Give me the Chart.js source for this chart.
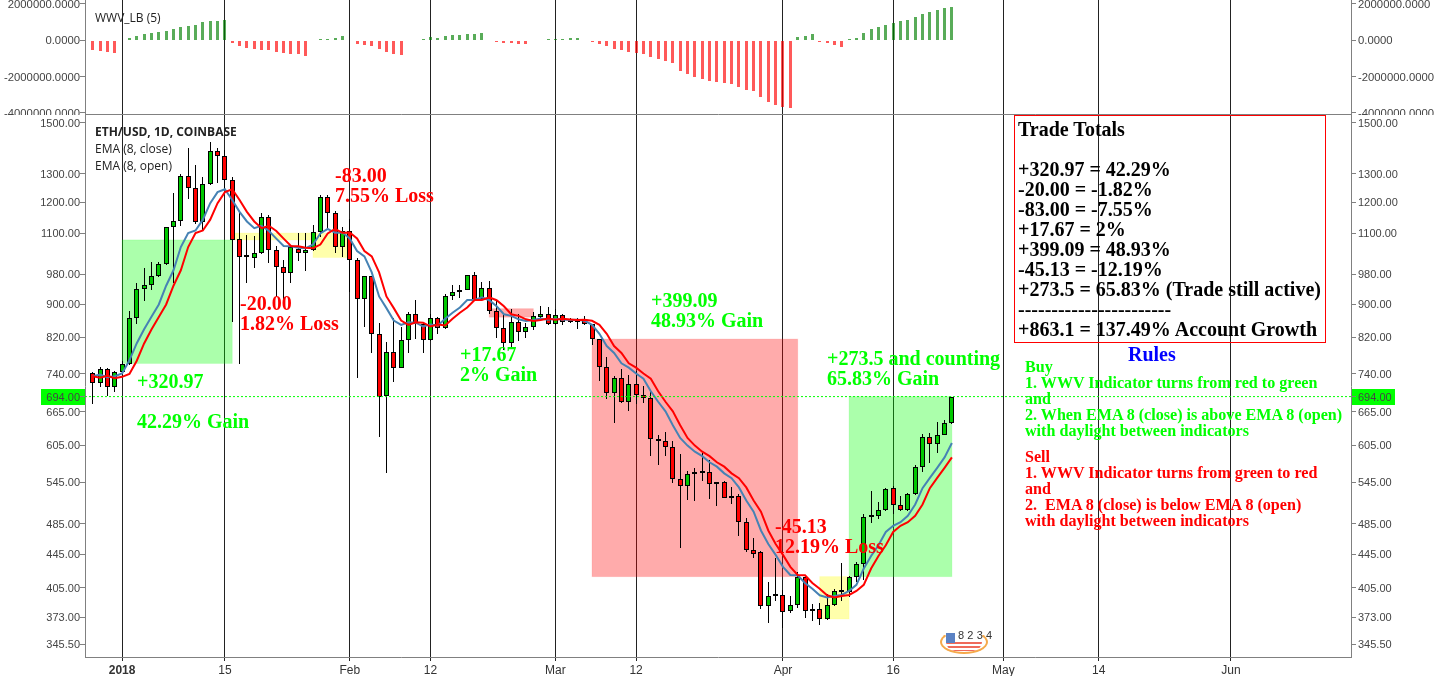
<!DOCTYPE html>
<html>
<head>
<meta charset="utf-8">
<title>ETH/USD WWV EMA trades</title>
<script src="https://cdn.jsdelivr.net/npm/chart.js@4"></script>
<style>
  html, body { margin: 0; background: #fff; overflow: hidden; }
  canvas { position: absolute; left: 0; }
  #wwv { top: 0; }
  #precio { top: 115px; }
  .nota { position: absolute; white-space: pre; font-family: "Liberation Serif", serif; font-weight: bold; }
  .leyenda { position: absolute; white-space: pre; font: 12px/16px "Open Sans", sans-serif; color: #222; }
  #totales { position: absolute; left: 1014px; top: 115px; width: 310px; height: 226px; border: 1px solid #f00; }
  .logo { position: absolute; }
</style>
</head>
<body>
<canvas id="wwv" width="1437" height="115"></canvas>
<canvas id="precio" width="1437" height="561"></canvas>
<div id="totales"></div>
<div class="logo" style="left:946px;top:642px;width:36px;height:9px;border-radius:0 0 14px 14px;background:repeating-linear-gradient(#ef6a5a 0 2px,#fff 2px 4px)"></div>
<div class="logo" style="left:940px;top:630px;width:44px;height:20px;border:2px solid #f5a94a;border-top-color:transparent;border-radius:50%"></div>
<div class="logo" style="left:946px;top:633px;width:9px;height:10px;background:#5b82c4"></div>
<div class="logo" style="left:958px;top:629px;font:11px 'Liberation Sans';letter-spacing:0.1px;color:#333">8 2 3 4</div>
<script>
// Days counted from 1 Jan 2018
const days = [
  -4, -3, -2, -1, 0,
  1, 2, 3, 4, 5, 6, 7, 8, 9, 10, 11, 12, 13, 14, 15, 16, 17, 18, 19, 20,
  21, 22, 23, 24, 25, 26, 27, 28, 29, 30, 31, 32, 33, 34, 35, 36, 37, 38, 39, 40,
  41, 42, 43, 44, 45, 46, 47, 48, 49, 50, 51, 52, 53, 54, 55, 56, 57, 58, 59, 60,
  61, 62, 63, 64, 65, 66, 67, 68, 69, 70, 71, 72, 73, 74, 75, 76, 77, 78, 79, 80,
  81, 82, 83, 84, 85, 86, 87, 88, 89, 90, 91, 92, 93, 94, 95, 96, 97, 98, 99, 100,
  101, 102, 103, 104, 105, 106, 107, 108, 109, 110, 111, 112, 113
];

const opens = [
  742, 721, 750, 713, 744,
  761, 866, 940, 951, 974, 1008, 1119, 1138, 1292, 1249, 1136, 1262, 1387, 1367, 1279,
  1081, 1029, 1025, 1040, 1150, 1049, 1000, 983, 1051, 1041, 1048, 1103, 1217, 1163, 1058,
  1105, 1020, 914, 974, 827, 695, 786, 753, 813, 877, 851, 813, 866, 841, 921,
  931, 937, 977, 914, 942, 884, 841, 806, 857, 833, 845, 869, 876, 851, 873,
  857, 857, 863, 851, 816, 755, 701, 731, 684, 720, 698, 692, 616, 612, 602,
  551, 539, 559, 560, 561, 542, 545, 522, 525, 488, 450, 448, 385, 396, 397,
  379, 386, 417, 379, 382, 371, 386, 400, 400, 417, 433, 495, 496, 504, 536,
  512, 504, 527, 569, 620, 607, 623, 644
];
const highs = [
  744, 755, 752, 746, 768,
  882, 956, 997, 1014, 1014, 1119, 1232, 1300, 1396, 1333, 1287, 1420, 1397, 1390, 1290,
  1167, 1094, 1090, 1164, 1158, 1060, 1020, 1060, 1100, 1100, 1125, 1226, 1226, 1170, 1119,
  1145, 1024, 975, 975, 855, 809, 866, 844, 880, 912, 853, 876, 868, 927, 951,
  949, 978, 985, 959, 961, 912, 873, 887, 877, 854, 881, 896, 892, 887, 876,
  866, 867, 870, 852, 817, 776, 736, 751, 737, 745, 715, 704, 622, 628, 612,
  590, 563, 568, 592, 581, 546, 547, 538, 528, 493, 466, 449, 412, 440, 403,
  396, 423, 419, 387, 388, 398, 404, 434, 419, 435, 498, 532, 516, 536, 539,
  524, 529, 572, 625, 627, 647, 650, 694
];
const lows = [
  680, 713, 695, 703, 736,
  758, 852, 909, 937, 972, 1005, 956, 1122, 1211, 1130, 1105, 1258, 1267, 1250, 856,
  760, 956, 997, 1038, 1012, 920, 906, 956, 1017, 989, 1046, 1087, 1110, 1040, 1029,
  932, 731, 845, 785, 619, 560, 723, 752, 785, 816, 785, 812, 828, 840, 910,
  915, 936, 911, 913, 877, 819, 792, 797, 811, 819, 837, 867, 848, 848, 849,
  855, 839, 849, 802, 726, 689, 645, 682, 666, 679, 682, 587, 573, 587, 544,
  453, 518, 517, 547, 520, 510, 521, 513, 469, 448, 441, 382, 367, 390, 362,
  377, 383, 372, 369, 365, 370, 385, 390, 395, 412, 414, 486, 491, 503, 499,
  503, 503, 526, 561, 576, 592, 622, 643
];
const closes = [
  721, 750, 713, 743, 761,
  866, 940, 951, 974, 1008, 1119, 1138, 1292, 1249, 1136, 1262, 1387, 1367, 1279, 1079,
  1029, 1027, 1040, 1150, 1049, 1000, 983, 1058, 1041, 1048, 1103, 1217, 1163, 1058, 1105,
  1020, 914, 974, 827, 694, 786, 753, 813, 877, 851, 813, 866, 841, 921, 931,
  937, 977, 912, 942, 884, 841, 806, 857, 833, 845, 870, 876, 851, 873, 857,
  856, 863, 851, 816, 754, 701, 731, 684, 720, 698, 692, 616, 612, 602, 551,
  539, 558, 558, 561, 542, 545, 522, 525, 488, 450, 446, 385, 396, 396, 378,
  386, 418, 379, 381, 371, 386, 401, 401, 417, 433, 495, 497, 504, 535, 512,
  504, 527, 569, 620, 607, 623, 644, 694
];

const emaClose = [
  735, 738.3, 732.7, 735, 740.8,
  768.6, 806.7, 838.8, 868.8, 899.7, 948.4, 990.5, 1057.5, 1100.1, 1108.1,
  1142.3, 1196.7, 1234.5, 1244.4, 1207.6, 1167.9, 1136.6, 1115.1, 1122.9, 1106.5,
  1082.8, 1060.6, 1060, 1055.8, 1054.1, 1065, 1098.8, 1113.1, 1100.9, 1101.8,
  1083.6, 1045.9, 1029.9, 984.8, 920.2, 890.4, 859.9, 849.5, 855.6, 854.6,
  845.4, 850, 848, 864.2, 879, 891.9, 910.8, 911.1, 918, 910.4,
  895, 875.2, 871.2, 862.7, 858.8, 861.3, 864.6, 861.6, 864.1, 862.5,
  861.1, 861.5, 859.2, 849.6, 828.4, 800.1, 784.7, 762.3, 752.9, 740.7,
  729.9, 704.6, 684, 665.8, 640.3, 617.8, 604.5, 594.2, 586.8, 576.8,
  569.7, 559.1, 551.5, 537.4, 518, 502, 476, 458.2, 444.4, 429.6,
  419.9, 419.5, 410.5, 403.9, 396.6, 394.2, 395.7, 396.9, 401.4, 408.4,
  427.6, 443, 456.6, 474, 482.4, 487.2, 496, 512.2, 536.2, 551.9,
  567.7, 584.7, 609
];
const emaOpen = [
  735, 731.9, 735.9, 730.8, 733.7,
  739.8, 767.8, 806.1, 838.3, 868.5, 899.7, 948.4, 990.5, 1057.5, 1100.1,
  1108.1, 1142.3, 1196.7, 1234.5, 1244.4, 1207.6, 1167.9, 1136.6, 1115.1, 1122.9,
  1106.5, 1082.8, 1060.6, 1060, 1055.8, 1054.1, 1065, 1098.8, 1113.1, 1100.9,
  1101.8, 1083.6, 1045.9, 1029.9, 984.8, 920.2, 890.4, 859.9, 849.5, 855.6,
  854.6, 845.4, 850, 848, 864.2, 879, 891.9, 910.8, 911.1, 918,
  910.4, 895, 875.2, 871.2, 862.7, 858.8, 861.3, 864.6, 861.6, 864.1,
  862.5, 861.1, 861.5, 859.2, 849.6, 828.4, 800.1, 784.7, 762.3, 752.9,
  740.7, 729.9, 704.6, 684, 665.8, 640.3, 617.8, 604.5, 594.2, 586.8,
  576.8, 569.7, 559.1, 551.5, 537.4, 518, 502, 476, 458.2, 444.4,
  429.6, 419.9, 419.5, 410.5, 403.9, 396.6, 394.2, 395.7, 396.9, 401.4,
  408.4, 427.6, 443, 456.6, 474, 482.4, 487.2, 496, 512.2, 536.2,
  551.9, 567.7, 584.7
];

const wwvValues = [
  -550000, -606000, -661000, -716000, 0,
  110000, 220000, 349000, 404000, 459000, 495000, 624000, 697000, 789000, 844000,
  991000, 1046000, 1046000, 1101000, -165000, -312000, -440000, -495000, -550000, -550000,
  -661000, -697000, -752000, -789000, -881000, 0, 37000, 55000, 92000, 220000,
  -73000, -220000, -257000, -312000, -495000, -661000, -752000, -826000, 18000, 18000,
  55000, 165000, 110000, 202000, 275000, 275000, 330000, 330000, 385000, -55000,
  -92000, -165000, -165000, -220000, -220000, 0, 0, 55000, 37000, 55000,
  92000, 110000, -55000, -92000, -220000, -330000, -495000, -550000, -661000, -716000,
  -771000, -936000, -1046000, -1156000, -1266000, -1707000, -1872000, -2037000, -2147000, -2257000,
  -2312000, -2367000, -2422000, -2587000, -2753000, -2808000, -3138000, -3413000, -3578000, -3688000,
  -3743000, 165000, 220000, 330000, -92000, -165000, -275000, -385000, 37000, 110000,
  385000, 606000, 716000, 826000, 936000, 1046000, 1101000, 1266000, 1431000, 1541000,
  1652000, 1762000, 1817000
];

const tickDays = [0, 14, 31, 42, 59, 70, 90, 105, 120, 133, 151];
const tickLabels = ["2018", "15", "Feb", "12", "Mar", "12", "Apr", "16", "May", "14", "Jun"];
const priceTicks = [1500, 1300, 1200, 1100, 980, 900, 820, 740, 694, 665, 605, 545, 485, 445, 405, 373, 345.5];
const wwvTicks = [-4000000, -2000000, 0, 2000000];
const lastPrice = 694;

// Trade zones: from day, to day, top price, bottom price, colour name
const tradeZones = [
  [0, 15, 1079, 762, "verde"],
  [15, 26, 1100, 1079, "amarillo"],
  [26, 31, 1100, 1027, "amarillo"],
  [50, 56, 889, 868, "rojo"],
  [64, 92, 816, 418, "rojo"],
  [95, 99, 418, 371, "amarillo"],
  [99, 113, 694, 418, "verde"]
];
const zoneColors = { verde: "0,255,0", rojo: "255,0,0", amarillo: "255,255,0" };

const GREEN = "#00ff00";
const RED = "#ff0000";

// Text on top of the chart: text, left, middle y, colour, size
const notes = [
  ["+320.97", 137, 381, GREEN, 20], ["42.29% Gain", 137, 421, GREEN, 20],
  ["-20.00", 240, 303, RED, 20], ["1.82% Loss", 240, 323, RED, 20],
  ["-83.00", 335, 175, RED, 20], ["7.55% Loss", 335, 195, RED, 20],
  ["+17.67", 460, 354, GREEN, 20], ["2% Gain", 460, 374, GREEN, 20],
  ["+399.09", 651, 300, GREEN, 20], ["48.93% Gain", 651, 320, GREEN, 20],
  ["-45.13", 775, 526, RED, 20], ["12.19% Loss", 775, 546, RED, 20],
  ["+273.5 and counting", 827, 358, GREEN, 20], ["65.83% Gain", 827, 378, GREEN, 20],
  ["Trade Totals", 1018, 129, "#000", 20],
  ["+320.97 = 42.29%", 1018, 169, "#000", 20],
  ["-20.00 = -1.82%", 1018, 189, "#000", 20],
  ["-83.00 = -7.55%", 1018, 209, "#000", 20],
  ["+17.67 = 2%", 1018, 229, "#000", 20],
  ["+399.09 = 48.93%", 1018, 249, "#000", 20],
  ["-45.13 = -12.19%", 1018, 269, "#000", 20],
  ["+273.5 = 65.83% (Trade still active)", 1018, 289, "#000", 20],
  ["-----------------------", 1018, 309, "#000", 20],
  ["+863.1 = 137.49% Account Growth", 1018, 329, "#000", 20],
  ["Rules", 1128, 354, "#0000ff", 20],
  ["Buy", 1025, 367, GREEN, 16.1],
  ["1. WWV Indicator turns from red to green", 1025, 383, GREEN, 16.1],
  ["and", 1025, 399, GREEN, 16.1],
  ["2. When EMA 8 (close) is above EMA 8 (open)", 1025, 415, GREEN, 16.1],
  ["with daylight between indicators", 1025, 431, GREEN, 16.1],
  ["Sell", 1025, 457, RED, 16.1],
  ["1. WWV Indicator turns from green to red", 1025, 473, RED, 16.1],
  ["and", 1025, 489, RED, 16.1],
  ["2.  EMA 8 (close) is below EMA 8 (open)", 1025, 505, RED, 16.1],
  ["with daylight between indicators", 1025, 521, RED, 16.1]
];

notes.forEach(([texto, x, y, color, size]) => {
  const div = document.createElement("div");
  div.className = "nota";
  div.textContent = texto;
  div.style.cssText = `left:${x}px;top:${y - size / 2}px;color:${color};font-size:${size}px;line-height:${size}px`;
  document.body.appendChild(div);
});

[["ETH/USD, 1D, COINBASE", 95, 124, "bold"], ["EMA (8, close)", 95, 141, "normal"], ["EMA (8, open)", 95, 158, "normal"], ["WWV_LB (5)", 95, 10, "normal"]]
  .forEach(([texto, x, y, peso]) => {
    const div = document.createElement("div");
    div.className = "leyenda";
    div.textContent = texto;
    div.style.left = x + "px";
    div.style.top = y + "px";
    div.style.fontWeight = peso;
    document.body.appendChild(div);
  });

// Align bars to whole pixels so candles stay sharp
const snapBars = {
  id: "snapBars",
  beforeDatasetsDraw(chart) {
    chart.getSortedVisibleDatasetMetas().filter(m => m.type === "bar").forEach(meta => {
      meta.data.forEach(el => {
        el.x = Math.floor(el.x) + 0.5;
        el.y = Math.round(el.y);
        el.base = Math.round(el.base);
      });
    });
  }
};

const zonesPlugin = {
  id: "zones",
  beforeDatasetsDraw(chart) {
    const { ctx, scales } = chart;
    tradeZones.forEach(([from, to, top, bottom, name]) => {
      const x1 = scales.x.getPixelForValue(from);
      const x2 = scales.x.getPixelForValue(to);
      const y1 = scales.y.getPixelForValue(top);
      const y2 = scales.y.getPixelForValue(bottom);
      ctx.fillStyle = `rgba(${zoneColors[name]},0.33)`;
      ctx.fillRect(x1, y1, x2 - x1, y2 - y1);
      ctx.strokeStyle = `rgba(${zoneColors[name]},0.12)`;
      ctx.strokeRect(x1, y1, x2 - x1, y2 - y1);
    });
  }
};

// Green price tag behind the 694 labels on both axes
const priceTag = {
  id: "priceTag",
  beforeDraw(chart) {
    const { ctx, scales } = chart;
    const y = Math.round(scales.y.getPixelForValue(lastPrice));
    ctx.fillStyle = GREEN;
    ctx.fillRect(41, y - 8, 44, 16);
    ctx.fillRect(1351, y - 8, 44, 16);
  }
};

// Chart.js reserves room for half a label past each end, the panes here do not
function noPadding(s) {
  s.paddingTop = s.paddingBottom = s.paddingLeft = s.paddingRight = 0;
}

const xAxis = {
  type: "linear",
  offset: false,
  min: -5.05,
  max: 167.35,
  afterBuildTicks: s => { s.ticks = tickDays.map(v => ({ value: v })); },
  border: { color: "#808080" }
};

function sideAxis(position, ticks, decimals, extra, fontSize) {
  return Object.assign({
    position,
    afterBuildTicks: s => { s.ticks = ticks.map(v => ({ value: v })); },
    afterFit: s => { s.width = position === "left" ? 85 : 86; noPadding(s); },
    grid: { drawOnChartArea: false, tickLength: 5, color: "#808080" },
    border: { color: "#808080" },
    ticks: {
      autoSkip: false,
      padding: position === "left" ? 0 : 2,
      labelOffset: 1,
      color: "#444",
      font: { family: "Liberation Sans", size: fontSize },
      callback: v => Number(v).toFixed(decimals)
    }
  }, extra);
}

new Chart(document.getElementById("wwv"), {
  type: "bar",
  data: {
    datasets: [{
      data: days.map((d, i) => ({ x: d, y: wwvValues[i] })),
      backgroundColor: wwvValues.map(v => v >= 0 ? "rgba(0,128,0,0.65)" : "rgba(255,0,0,0.65)"),
      grouped: false,
      maxBarThickness: 3,
      inflateAmount: 0
    }]
  },
  options: {
    responsive: false,
    animation: false,
    events: [],
    layout: { padding: 0 },
    plugins: { legend: { display: false }, tooltip: { enabled: false } },
    scales: {
      x: Object.assign({}, xAxis, {
        grid: { offset: false, color: "#222", tickLength: 0 },
        ticks: { display: false },
        afterFit: s => { s.height = 1; noPadding(s); }
      }),
      y: sideAxis("left", wwvTicks, 4, { min: -4066000, max: 2198000 }, 11.3),
      y2: sideAxis("right", wwvTicks, 4, { min: -4066000, max: 2198000 }, 11.3)
    }
  },
  plugins: [snapBars]
});

new Chart(document.getElementById("precio"), {
  type: "bar",
  data: {
    datasets: [
      {
        type: "line",
        data: [{ x: -5.05, y: lastPrice }, { x: 167.35, y: lastPrice }],
        borderColor: GREEN,
        borderWidth: 1,
        borderDash: [2, 2],
        pointRadius: 0,
        order: 0
      },
      {
        type: "line",
        label: "EMA (8, open)",
        data: days.map((d, i) => ({ x: d, y: emaOpen[i] })),
        borderColor: "#ff0000",
        borderWidth: 2,
        pointRadius: 0,
        order: 1
      },
      {
        type: "line",
        label: "EMA (8, close)",
        data: days.map((d, i) => ({ x: d, y: emaClose[i] })),
        borderColor: "#4682b4",
        borderWidth: 2,
        pointRadius: 0,
        order: 2
      },
      {
        label: "body",
        data: days.map((d, i) => ({ x: d, y: [opens[i], closes[i]] })),
        backgroundColor: days.map((d, i) => closes[i] >= opens[i] ? "#00c800" : "#ff0000"),
        borderColor: "#000",
        borderWidth: 1,
        borderSkipped: false,
        inflateAmount: 0,
        grouped: false,
        maxBarThickness: 5,
        minBarLength: 2,
        order: 3
      },
      {
        label: "wick",
        data: days.map((d, i) => ({ x: d, y: [lows[i], highs[i]] })),
        backgroundColor: "#000",
        inflateAmount: 0,
        grouped: false,
        maxBarThickness: 1,
        order: 4
      }
    ]
  },
  options: {
    responsive: false,
    animation: false,
    events: [],
    layout: { padding: 0 },
    plugins: { legend: { display: false }, tooltip: { enabled: false } },
    scales: {
      x: Object.assign({}, xAxis, {
        grid: { offset: false, color: "#222", tickColor: "#222", tickLength: 4 },
        afterFit: s => { s.height = 19; noPadding(s); },
        ticks: {
          autoSkip: false,
          maxRotation: 0,
          padding: 2,
          color: "#333",
          font: c => ({ family: "Liberation Sans", size: 12, weight: c.index === 0 ? "bold" : "normal" }),
          callback: v => tickLabels[tickDays.indexOf(v)]
        }
      }),
      y: sideAxis("left", priceTicks, 2, { type: "logarithmic", min: 333.3, max: 1534, bounds: "data" }, 11),
      y2: sideAxis("right", priceTicks, 2, { type: "logarithmic", min: 333.3, max: 1534, bounds: "data" }, 11)
    }
  },
  plugins: [snapBars, zonesPlugin, priceTag]
});
</script>
</body>
</html>
